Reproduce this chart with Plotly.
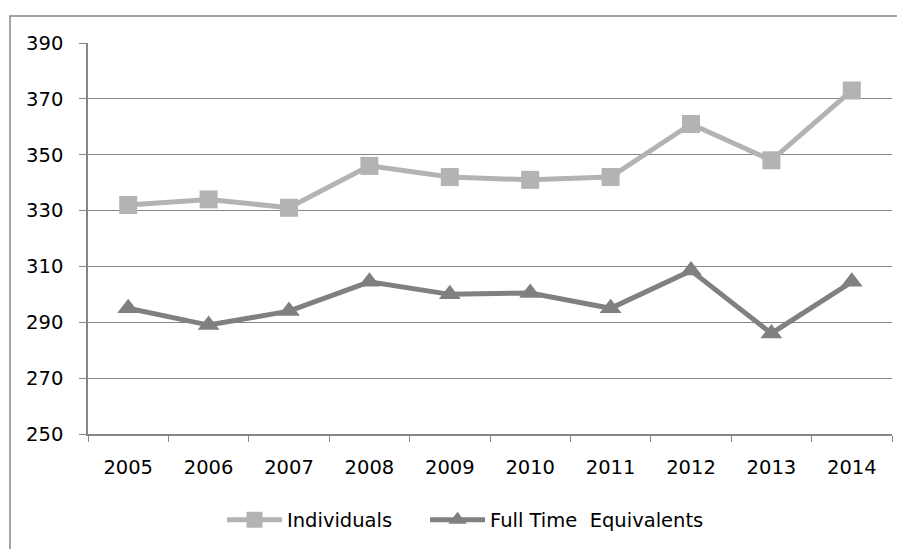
import plotly.graph_objects as go

years = ["2005", "2006", "2007", "2008", "2009", "2010", "2011", "2012", "2013", "2014"]
individuals = [332, 334, 331, 346, 342, 341, 342, 361, 348, 373]
fte = [295, 289, 294, 304.5, 300, 300.5, 295, 308.5, 286, 304.5]
y_ticks = [250, 270, 290, 310, 330, 350, 370, 390]

FONT = "DejaVu Sans"
FS = 19.5

fig = go.Figure()
fig.add_trace(go.Scatter(
    x=years, y=individuals, name="Individuals", mode="lines+markers",
    line=dict(color="#B3B3B3", width=5),
    marker=dict(symbol="square", size=18, color="#B3B3B3"),
    legend="legend",
))
fig.add_trace(go.Scatter(
    x=years, y=fte, name="Full Time  Equivalents", mode="lines+markers",
    line=dict(color="#808080", width=5),
    marker=dict(symbol="triangle-up", size=19, color="#808080"),
    legend="legend2",
))

# the page body adds an 8px offset; work in screen coords minus 8
OFF = 8
W, H = 905 - OFF, 549 - OFF
L, T = 88 - OFF, 43 - OFF
R = W - (892 - OFF)
B = H - (434 - OFF)
pw, ph = W - L - R, H - T - B

def px(xs):
    return (xs - OFF - L) / pw

def py(ys):
    return (H - B - (ys - OFF)) / ph

leg_common = dict(orientation="h", yanchor="middle", xanchor="left",
                  font=dict(family=FONT, size=FS), itemwidth=55,
                  bgcolor="rgba(0,0,0,0)")

fig.update_layout(
    width=W, height=H,
    margin=dict(l=L, r=R, t=T, b=B, autoexpand=False),
    paper_bgcolor="white", plot_bgcolor="white",
    font=dict(family=FONT, size=FS, color="black"),
    showlegend=True,
    legend=dict(x=px(222), y=py(520), **leg_common),
    legend2=dict(x=px(425), y=py(520), **leg_common),
    xaxis=dict(
        type="category", range=[-0.5, 9.5], showgrid=False, showline=True,
        linecolor="#868686", linewidth=1.5, ticks="outside",
        tickson="boundaries", ticklen=6, tickcolor="#868686",
        ticklabelstandoff=15, zeroline=False, automargin=False,
        tickfont=dict(family=FONT, size=FS),
    ),
    yaxis=dict(
        range=[250, 390], tickvals=y_ticks, showgrid=True, gridcolor="#868686",
        gridwidth=1, showline=True, linecolor="#868686", linewidth=1.5,
        ticks="outside", ticklen=7, tickcolor="#868686", ticklabelstandoff=12,
        zeroline=False, automargin=False, tickfont=dict(family=FONT, size=FS),
    ),
    shapes=[dict(
        type="rect", xref="paper", yref="paper",
        x0=px(10), x1=px(920), y0=py(560), y1=py(16),
        line=dict(color="#868686", width=1.5), layer="below",
    )],
)

fig.write_html("out.html")
